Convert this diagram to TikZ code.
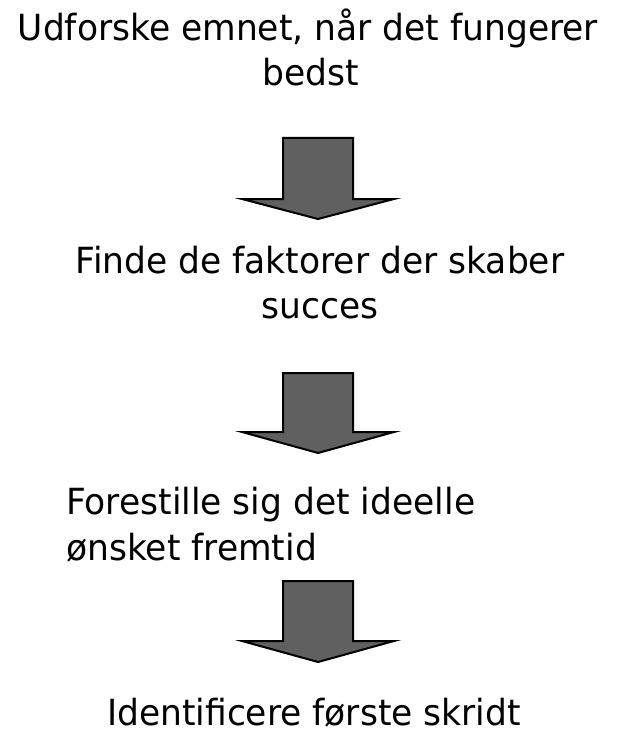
\documentclass[tikz,border=0pt]{standalone}
\usepackage{fontspec}
\setmainfont[FakeStretch=0.958]{DejaVu Sans}
\begin{document}
\begin{tikzpicture}[x=1pt,y=-1pt,
  lbl/.style={inner sep=0pt, font=\fontsize{36pt}{46pt}\selectfont},
  blockarrow/.style={draw=black, line width=2pt, fill={rgb,255:red,96;green,96;blue,96}, line join=miter}]
\useasboundingbox (0,0) rectangle (619,730);
\node[lbl, anchor=base] (t1a) at (308,41) {Udforske emnet, når det fungerer};
\node[lbl, anchor=base] (t1b) at (311,86) {bedst};
\node[lbl, anchor=base] (t2a) at (320,273) {Finde de faktorer der skaber};
\node[lbl, anchor=base] (t2b) at (320,318) {succes};
\node[lbl, anchor=base west] (t3a) at (66,514) {Forestille sig det ideelle};
\node[lbl, anchor=base west] (t3b) at (66,560) {ønsket fremtid};
\node[lbl, anchor=base] (t4a) at (314,725) {Identificere første skridt};
% block arrows
\foreach \top/\wing/\tip [count=\i] in {138/199/219, 373/432/453, 581/641/662}{
  \coordinate (arr\i) at (318,\top);
  \draw[blockarrow] (283,\top) -- (353,\top) -- (353,\wing) -- (394,\wing) -- (318,\tip) -- (242,\wing) -- (283,\wing) -- cycle;
}
\end{tikzpicture}
\end{document}
